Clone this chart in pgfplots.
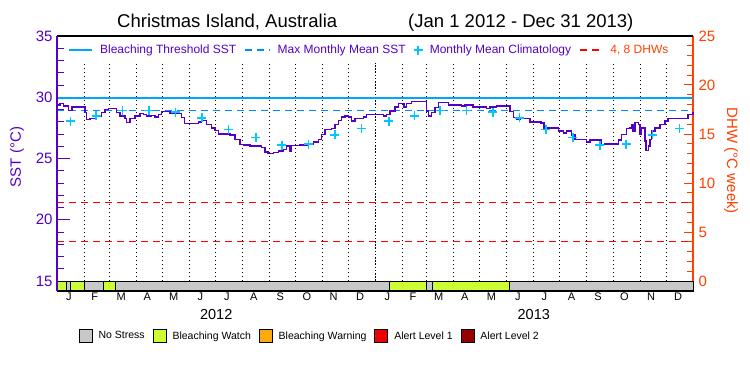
\documentclass[border=0pt]{standalone}
\usepackage{pgfplots}
\pgfplotsset{compat=1.18}
\usepackage{fontspec}
\setmainfont{Liberation Sans}
\definecolor{sstpurple}{RGB}{85,0,200}
\definecolor{thrblue}{RGB}{0,165,255}
\definecolor{mmmblue}{RGB}{0,140,255}
\definecolor{climcyan}{RGB}{0,200,255}
\definecolor{dhwred}{RGB}{255,0,0}
\definecolor{dhwaxis}{RGB}{255,64,0}
\definecolor{nostress}{RGB}{200,200,200}
\definecolor{watch}{RGB}{204,255,51}
\definecolor{warning}{RGB}{250,170,10}
\definecolor{alertone}{RGB}{240,0,0}
\definecolor{alerttwo}{RGB}{150,0,0}

\pgfplotsset{
  linelegend/.style={legend image code/.code={\draw[##1] (0pt,0pt) -- (#1,0pt);}},
  marklegend/.style={legend image code/.code={\draw[##1] plot coordinates {(4.5pt,0pt)};}},
  boxlegend/.style={legend image code/.code={\draw[fill=#1, draw=black, line width=0.8pt] (0pt,-6.5pt) rectangle (13pt,6.5pt);}},
}

\pgfplotstableread{
day sst
0 29.37
3.4 29.47
7.2 29.29
13.0 28.93
17 29.2
30.3 29.2
32.2 28.74
34.1 28.2
37.9 28.28
45.6 28.47
51.3 28.74
55.2 29.02
59 29.07
66.7 29.07
68.6 28.74
72.4 28.47
78.1 28.28
80.1 27.92
83.9 28.28
89.6 28.47
95.4 28.66
99.2 28.6
103.1 28.47
108.8 28.5
112.6 28.39
116.4 28.6
120.3 28.82
126 28.82
129.9 28.66
137.5 28.66
143.3 28.33
146.3 27.87
158.6 27.87
162.4 28.0
166.3 28.12
172 27.79
177.7 27.51
181.6 27.3
185.4 27.02
193.1 27.02
198.8 26.92
204.6 26.56
210.3 26.16
214.1 26.1
221.8 26.02
229.5 26.02
235.3 25.88
239 25.55
242.8 25.39
248.6 25.47
254.3 25.61
260.1 25.75
264 26.02
267.8 25.61
269.7 26.08
279.3 26.1
288.8 26.16
294.6 26.35
300.3 26.56
304.2 26.97
308 27.38
315.7 27.46
319.5 27.79
323.3 28.12
327.2 28.39
331 28.47
334.8 28.39
338.7 28.06
342.5 28.28
348.2 28.28
352 28.39
355.9 28.6
371.2 28.6
375 28.47
377 28.47
378.9 28.6
382.7 28.88
388.5 29.2
392.3 29.47
396.1 29.47
398.8 29.2
401.9 29.47
407.6 29.64
422.9 29.64
424.9 28.88
426.7 28.47
430.6 28.74
434.4 29.15
438.2 29.56
445.9 29.56
449.7 29.37
465.1 29.29
468.9 29.37
474.7 29.37
478.4 29.2
489.9 29.2
493.8 29.1
497.6 29.2
503.4 29.2
505.3 29.29
518.7 29.29
520.6 28.82
524.4 28.33
528.3 28.2
532.1 28.28
539.8 28.28
543.6 28.0
555.1 28.0
556.3 27.9
559.7 27.51
568.6 27.51
576.2 27.24
581.9 27.1
585.8 27.24
591.5 26.92
595.3 26.56
604.9 26.56
608.7 26.35
612.6 26.49
622.1 26.49
626 26.16
629.8 26.2
639.4 26.2
645.1 26.49
649 26.97
654.8 27.46
658.6 27.51
660.5 27.79
662.3 27.24
664.3 27.92
668.1 27.79
670 26.97
672 27.51
675.8 26.43
676.9 25.67
679.6 26.02
681.5 26.56
683.5 27.24
687.3 27.51
693 27.79
698.7 28.06
702.5 28.28
721.7 28.28
725.5 28.6
731 28.82
}\ssttable

\begin{document}
\begin{tikzpicture}[x=1pt,y=1pt]
\path (0,0) rectangle (750,375);
\node[anchor=base west, font=\fontsize{18.5}{20}\selectfont, inner sep=0pt] at (117,347) {Christmas Island, Australia};
\node[anchor=base west, font=\fontsize{18.5}{20}\selectfont, inner sep=0pt] at (408,347) {(Jan 1 2012 - Dec 31 2013)};
\node[rotate=90, text=sstpurple, font=\fontsize{15}{15}\selectfont] at (17,218) {SST (°C)};
\node[rotate=-90, text=dhwaxis, font=\fontsize{15}{15}\selectfont] at (731,214) {DHW (°C week)};

% ---------- right (DHW) axis ----------
\begin{axis}[
  at={(57pt,84pt)}, anchor=south west,
  scale only axis, width=636pt, height=255pt,
  xmin=0, xmax=731, ymin=-1.02, ymax=25,
  axis line style={draw=none},
  xtick=\empty,
  ytick={0,5,10,15,20,25},
  minor ytick={1,2,3,4,6,7,8,9,11,12,13,14,16,17,18,19,21,22,23,24},
  ytick pos=right, tick align=inside,
  major tick length=9pt, minor tick length=6.5pt,
  y tick style={dhwaxis, line width=1pt},
  /pgf/number format/assume math mode=true,
  yticklabel style={text=dhwaxis, font=\fontsize{15}{15}\selectfont, xshift=2pt},
  clip=false,
  legend style={at={(rel axis cs:0.034,-0.1765)}, anchor=west, draw=none, fill=none,
    font=\fontsize{10.5}{11}\selectfont, legend columns=5, inner sep=0pt,
    /tikz/every odd column/.append style={column sep=4pt},
    /tikz/every even column/.append style={column sep=6pt}},
]
\addplot[dhwred, dash pattern=on 7pt off 5pt, line width=1.2pt, forget plot] coordinates {(0,4) (731,4)};
\addplot[dhwred, dash pattern=on 7pt off 5pt, line width=1.2pt, forget plot] coordinates {(0,8) (731,8)};
\addlegendimage{boxlegend=nostress}
\addlegendentry{No Stress}
\addlegendimage{boxlegend=watch}
\addlegendentry{Bleaching Watch}
\addlegendimage{boxlegend=warning}
\addlegendentry{Bleaching Warning}
\addlegendimage{boxlegend=alertone}
\addlegendentry{Alert Level 1}
\addlegendimage{boxlegend=alerttwo}
\addlegendentry{Alert Level 2}
\draw[dhwaxis, line width=1.2pt] (rel axis cs:1,0) -- (rel axis cs:1,1);
\end{axis}

% ---------- main (SST) axis ----------
\begin{axis}[
  at={(57pt,84pt)}, anchor=south west,
  scale only axis, width=636pt, height=255pt,
  xmin=0, xmax=731, ymin=14.184, ymax=35,
  axis line style={draw=none},
  ytick={15,20,25,30,35},
  minor ytick={16,17,18,19,21,22,23,24,26,27,28,29,31,32,33,34},
  ytick pos=left, tick align=inside,
  major tick length=13pt, minor tick length=6.5pt,
  y tick style={sstpurple, line width=1pt},
  /pgf/number format/assume math mode=true,
  yticklabel style={text=sstpurple, font=\fontsize{15}{15}\selectfont, xshift=-1pt},
  xtick={15.5,45,75.5,105.5,136,166.5,197,228,258.5,289,319.5,350,381.5,411,440.5,470.5,501,531.5,562,593,623.5,654,684.5,715.5},
  xticklabels={J,F,M,A,M,J,J,A,S,O,N,D,J,F,M,A,M,J,J,A,S,O,N,D},
  x tick style={draw=none},
  xticklabel style={font=\fontsize{11}{11}\selectfont, inner sep=0pt, yshift=-1.5pt, xshift=-1.5pt},
  clip=false,
  legend style={at={(rel axis cs:0.018,0.945)}, anchor=west, draw=none, fill=none,
    font=\fontsize{12}{12}\selectfont, text=sstpurple, legend columns=4, inner sep=0pt,
    /tikz/every odd column/.append style={column sep=5pt},
    /tikz/every even column/.append style={column sep=6pt}},
]
% month boundary dotted lines
\pgfplotsinvokeforeach{31,60,91,121,152,182,213,244,274,305,335,397,425,456,486,517,547,578,609,639,670,700}{
  \draw[black, line width=0.8pt, dash pattern=on 0.8pt off 3.2pt] (axis cs:#1,15) -- (axis cs:#1,32.8);
}
\draw[black, line width=1pt, dash pattern=on 1.6pt off 1.6pt] (axis cs:366,15) -- (axis cs:366,32.8);

\addplot[thrblue, line width=1.5pt, linelegend=23pt] coordinates {(0,29.93) (731,29.93)};
\addlegendentry{Bleaching Threshold SST}
\addplot[mmmblue, line width=1.5pt, dash pattern=on 7pt off 5pt, linelegend=25pt] coordinates {(0,28.93) (731,28.93)};
\addlegendentry{Max Monthly Mean SST}
\addplot[only marks, mark=+, mark size=4.5pt, climcyan, line width=1.6pt, marklegend] coordinates {
(15.5,28.06) (45,28.47) (75.5,28.93) (105.5,28.93) (136,28.78) (166.5,28.31) (197,27.38) (228.6,26.70) (258.5,26.08) (289,26.16) (319.5,26.92) (350,27.46)
(381.5,28.06) (411,28.47) (440.5,28.93) (470.5,28.93) (501,28.78) (531.5,28.31) (562,27.38) (593,26.70) (624.1,26.08) (654,26.16) (684.5,26.92) (715.5,27.46)};
\addlegendentry{Monthly Mean Climatology}
\addlegendimage{dhwred, line width=1.2pt, dash pattern=on 7pt off 5pt, linelegend=23pt}
\addlegendentry{\textcolor{dhwaxis}{4, 8 DHWs}}

\addplot[sstpurple, line width=1.5pt, forget plot, const plot] table[x=day, y=sst] {\ssttable};

% status bar
\addplot[fill=watch, draw=black, line width=0.8pt, forget plot] coordinates {(0,14.184) (10.3,14.184) (10.3,15) (0,15)} -- cycle;
\addplot[fill=nostress, draw=black, line width=0.8pt, forget plot] coordinates {(10.3,14.184) (15.7,14.184) (15.7,15) (10.3,15)} -- cycle;
\addplot[fill=watch, draw=black, line width=0.8pt, forget plot] coordinates {(15.7,14.184) (31.4,14.184) (31.4,15) (15.7,15)} -- cycle;
\addplot[fill=nostress, draw=black, line width=0.8pt, forget plot] coordinates {(31.4,14.184) (53.2,14.184) (53.2,15) (31.4,15)} -- cycle;
\addplot[fill=watch, draw=black, line width=0.8pt, forget plot] coordinates {(53.2,14.184) (67,14.184) (67,15) (53.2,15)} -- cycle;
\addplot[fill=nostress, draw=black, line width=0.8pt, forget plot] coordinates {(67,14.184) (382,14.184) (382,15) (67,15)} -- cycle;
\addplot[fill=watch, draw=black, line width=0.8pt, forget plot] coordinates {(382,14.184) (424.1,14.184) (424.1,15) (382,15)} -- cycle;
\addplot[fill=nostress, draw=black, line width=0.8pt, forget plot] coordinates {(424.1,14.184) (431.4,14.184) (431.4,15) (424.1,15)} -- cycle;
\addplot[fill=watch, draw=black, line width=0.8pt, forget plot] coordinates {(431.4,14.184) (519.9,14.184) (519.9,15) (431.4,15)} -- cycle;
\addplot[fill=nostress, draw=black, line width=0.8pt, forget plot] coordinates {(519.9,14.184) (731,14.184) (731,15) (519.9,15)} -- cycle;

% frame
\draw[black, line width=1.2pt] (rel axis cs:0,1) -- (rel axis cs:1,1);
\draw[black, line width=1.2pt] (rel axis cs:0,0) -- (rel axis cs:1,0);
\draw[sstpurple, line width=1.2pt] (rel axis cs:0,0) -- (rel axis cs:0,1);

\node[font=\fontsize{14.5}{15}\selectfont] at (axis cs:183,14.184) [yshift=-24pt] {2012};
\node[font=\fontsize{14.5}{15}\selectfont] at (axis cs:548,14.184) [yshift=-24pt] {2013};
\end{axis}
\end{tikzpicture}
\end{document}
